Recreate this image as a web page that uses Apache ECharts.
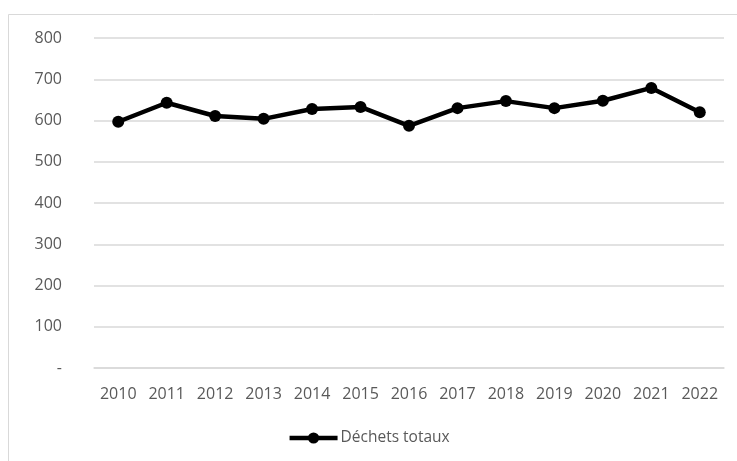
<!DOCTYPE html>
<html>
<head>
<meta charset="utf-8">
<script src="https://cdn.jsdelivr.net/npm/echarts@6/dist/echarts.min.js"></script>
<style>
html,body{margin:0;padding:0;background:#fff;}
#chart{width:737px;height:461px;}
</style>
</head>
<body>
<div id="chart"></div>
<script>
const categories = ['2010','2011','2012','2013','2014','2015','2016','2017','2018','2019','2020','2021','2022'];
const seriesName = 'Déchets totaux';
const values = [597, 643, 611, 604, 628, 633, 587, 630, 647, 630, 648, 679, 620];
const yTicks = [0, 100, 200, 300, 400, 500, 600, 700, 800];

const chart = echarts.init(document.getElementById('chart'), null, {renderer: 'canvas'});
const font = '"Open Sans", "Liberation Sans", sans-serif';
chart.setOption({
  animation: false,
  backgroundColor: '#fff',
  graphic: [{
    type: 'rect',
    shape: {x: 8.5, y: 14.5, width: 740, height: 460},
    style: {fill: 'none', stroke: '#d9d9d9', lineWidth: 1},
    silent: true
  }],
  grid: {left: 94, right: 13, top: 38, bottom: 93, containLabel: false},
  legend: {
    bottom: 10,
    left: 'center',
    itemWidth: 48,
    itemHeight: 14,
    itemGap: 10,
    lineStyle: {width: 4.5},
    textStyle: {color: '#595959', fontSize: 15.5, fontFamily: font, padding: [0, 0, 0, -2]},
    data: [seriesName]
  },
  xAxis: {
    type: 'category',
    data: categories,
    boundaryGap: true,
    axisLine: {lineStyle: {color: '#d9d9d9', width: 1.5}},
    axisTick: {show: false},
    axisLabel: {color: '#595959', fontSize: 16, fontFamily: font, margin: 18, interval: 0}
  },
  yAxis: {
    type: 'value',
    min: yTicks[0],
    max: yTicks[yTicks.length - 1],
    interval: 100,
    axisLine: {show: false},
    axisTick: {show: false},
    splitLine: {lineStyle: {color: '#d9d9d9', width: 1.5}},
    axisLabel: {
      color: '#595959', fontSize: 16, fontFamily: font, margin: 32,
      formatter: v => v === 0 ? '-' : String(v)
    }
  },
  series: [{
    name: seriesName,
    type: 'line',
    data: values,
    symbol: 'circle',
    symbolSize: 12,
    lineStyle: {color: '#000', width: 4.5},
    itemStyle: {color: '#000'}
  }]
});
</script>
</body>
</html>
